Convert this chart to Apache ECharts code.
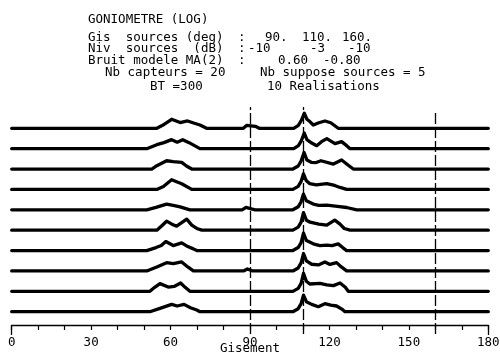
<!DOCTYPE html>
<html><head><meta charset="utf-8">
<script src="https://cdn.jsdelivr.net/npm/echarts@6/dist/echarts.min.js"></script>
<style>html,body{margin:0;padding:0;background:#fff}#c{width:500px;height:364px}</style>
</head><body><div id="c"></div>
<script>
// Gisement (deg) vs niveau (relative units) for each of the 10 realisations (top to bottom)
const r1 = [[0,0],[54.8,0],[57,3],[60.4,9],[63.6,5.7],[66.4,7.3],[69,5],[71.1,3.3],[73.6,0],[87.5,0],[88.8,3],[92,2],[93.5,0],[106.5,0],[108.3,3],[109.4,8],[110.5,15],[111.5,9],[112.6,6.7],[113.9,3.3],[116,5.5],[118.3,7.3],[120.5,5.5],[123.3,0],[180,0]];
const r2 = [[0,0],[51,0],[54.8,4],[57.5,6],[60.4,9],[62.5,6.5],[64.6,9],[67,6],[71.1,0],[106.5,0],[108.3,3],[109.4,8],[110.5,15.6],[111.5,9],[113.3,5.6],[115.2,3],[117,7],[119,10],[122.1,5],[124.6,7],[126.5,3],[127.8,0],[180,0]];
const r3 = [[0,0],[52.9,0],[54.8,3.3],[58.5,8.3],[61,7.5],[64.2,6.7],[66,3],[68,0],[106.2,0],[108.2,3],[109.3,8],[110.4,16.6],[111.5,9],[113.3,6.6],[115,6.5],[116.8,8.3],[121.5,5],[124.6,9],[127,4],[129,0],[180,0]];
const r4 = [[0,0],[54.8,0],[57.3,3],[60.4,9.7],[62.5,7.5],[64.2,5.7],[68,0],[106.2,0],[108.2,3],[109.3,8],[110.2,15.6],[111.2,9],[112.6,5.7],[115,4.5],[119,5.7],[122,4],[124,2],[126.5,0],[180,0]];
const r5 = [[0,0],[51,0],[54.5,2.5],[58.5,5.7],[61,4.5],[63.6,3],[67.3,0],[87,0],[88.5,2.5],[90.5,1],[92,0],[106.2,0],[108.2,3],[109.3,8],[110.2,15.7],[111.3,9],[113.9,5.7],[116,4.5],[119,4.7],[123,3.5],[126.5,2.3],[130.3,0],[180,0]];
const r6 = [[0,0],[54.8,0],[56.5,4],[58.5,9],[60.5,6],[62.3,4],[66.1,11],[68,5],[69.9,1.7],[71.8,0],[106.2,0],[108.2,3],[109.3,8],[110.2,17.5],[111.3,10],[112.7,8],[116,6],[119,5],[122,10],[124,6],[125.6,1.7],[127.8,0],[180,0]];
const r7 = [[0,0],[51,0],[54.5,3],[56.5,5],[58.2,9],[61,5],[64.2,7.7],[66.5,4],[68.6,1.7],[69.9,0],[106.2,0],[108.2,3],[109.3,8],[110.2,17.4],[111.3,10],[113.9,6.7],[116.4,5],[119,5.5],[121,5],[123.3,6.7],[125,3],[126.5,0],[180,0]];
const r8 = [[0,0],[51,0],[54.8,4],[58.5,8.3],[61,7.3],[64.2,9],[66.5,4],[68.6,0],[87.5,0],[89,2],[91,0],[106.2,0],[108.2,3],[109.3,8],[110.2,17.4],[111.3,10],[113.3,6.7],[115.8,6],[118.3,9],[120.2,6.5],[122.7,8.3],[124.5,4],[126.5,0],[180,0]];
const r9 = [[0,0],[52.2,0],[54,4],[56,7.7],[59.1,4.3],[61.5,5],[63.8,8.3],[65.5,4],[67.3,0],[106.2,0],[108.2,3],[109.3,8],[110.2,18],[111.3,10],[112.6,7.3],[116.4,8],[119,6.5],[121.5,5.7],[124,8.3],[126,4],[127.1,0],[180,0]];
const r10 = [[0,0],[52.2,0],[56,3.3],[60.4,7.3],[62.5,5.7],[65.1,7.3],[67.5,4],[69.9,1.7],[71.1,0],[106.2,0],[108.2,3],[109.3,8],[110.2,16.6],[111.3,10],[113.3,7.3],[115.8,5],[118.3,8],[120.5,6.5],[122.7,5.7],[125,2],[125.9,0],[180,0]];
const realisations = [r1,r2,r3,r4,r5,r6,r7,r8,r9,r10];
const sourcesDeg = [90, 110, 160];
const xTicks = [0, 30, 60, 90, 120, 150, 180];
const xName = 'Gisement';

const SPACING = 20.38, BASE = 13.3;
const YMIN = -11, YMAX = 225;
const FONT = '"DejaVu Sans Mono", "Liberation Mono", monospace';

const series = realisations.map((r, k) => {
  const off = BASE + (realisations.length - 1 - k) * SPACING;
  return {
    type: 'line', data: r.map(p => [p[0], p[1] + off]),
    symbol: 'none', silent: true, animation: false,
    lineStyle: { color: '#000', width: 3.3, join: 'round', cap: 'round' }
  };
});
const dashTop = [218, 218, 215];
series[0].markLine = {
  silent: true, symbol: 'none', animation: false, label: { show: false },
  lineStyle: { color: '#000', width: 1.3, type: [11, 3] },
  data: sourcesDeg.map((d, i) => [{ coord: [d, -9] }, { coord: [d, dashTop[i]] }])
    .concat([0, 180].map(d => [{ coord: [d, 0], lineStyle: { type: 'solid', width: 1.3 } }, { coord: [d, -10] }]))
};

const header = [
  ['GONIOMETRE (LOG)', 88, 20],
  ['Gis  sources (deg)', 88, 38], [':', 238, 38], ['90.', 265, 38], ['110.', 302, 38], ['160.', 342, 38],
  ['Niv  sources  (dB)', 88, 49], [':', 238, 49], ['-10', 248, 49], ['-3', 310, 49], ['-10', 348, 49],
  ['Bruit modele MA(2)', 88, 61], [':', 238, 61], ['0.60', 278, 61], ['-0.80', 323, 61],
  ['Nb capteurs = 20', 105, 73], ['Nb suppose sources = 5', 260, 73],
  ['BT =300', 150, 87], ['10 Realisations', 267, 87]
];

const chart = echarts.init(document.getElementById('c'), null, { renderer: 'canvas' });
chart.setOption({
  animation: false,
  backgroundColor: '#fff',
  grid: { left: 11.7, right: 11.7, top: 100, bottom: 28, containLabel: false, outerBoundsMode: 'none' },
  xAxis: {
    type: 'value', min: 0, max: 180, interval: 10,
    axisLine: { onZero: true, lineStyle: { color: '#000', width: 1.3 } },
    axisTick: { inside: false, length: 5, lineStyle: { color: '#000', width: 1.2 } },
    axisLabel: {
      fontFamily: FONT, fontSize: 12.5, color: '#000', margin: 0,
      formatter: v => xTicks.indexOf(v) >= 0 ? String(v) : ''
    },
    splitLine: { show: false }
  },
  yAxis: { type: 'value', min: YMIN, max: YMAX, show: false },
  series: series,
  graphic: header.map(h => ({
    type: 'text', x: h[1], y: h[2], silent: true,
    style: { text: h[0], font: '12.5px ' + FONT, fill: '#000', textVerticalAlign: 'middle' }
  })).concat([{
    type: 'text', x: 250, y: 349, silent: true,
    style: { text: xName, font: '12.5px ' + FONT, fill: '#000', textAlign: 'center', textVerticalAlign: 'middle' }
  }])
});
</script></body></html>
